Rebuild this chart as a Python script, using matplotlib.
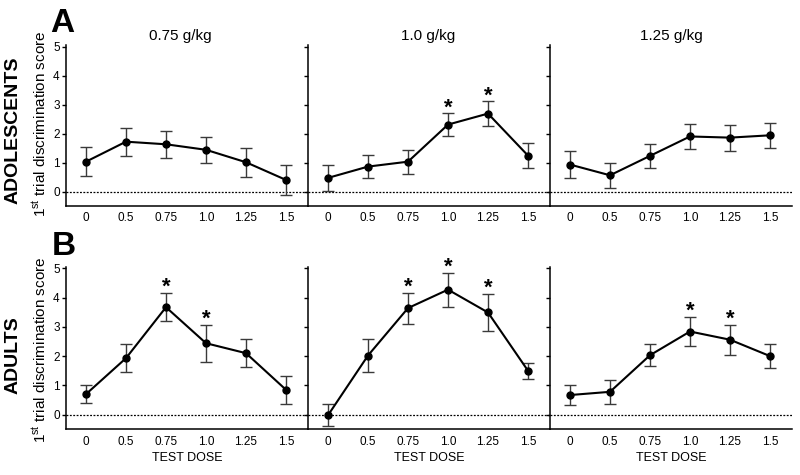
import matplotlib
matplotlib.use('Agg')
import matplotlib.pyplot as plt

plt.rcParams['font.family'] = ['Liberation Sans', 'DejaVu Sans']
plt.rcParams['mathtext.fontset'] = 'custom'
plt.rcParams['mathtext.rm'] = 'Liberation Sans'
plt.rcParams['mathtext.it'] = 'Liberation Sans'

test_doses = ['0', '0.5', '0.75', '1.0', '1.25', '1.5']
doses = ['0.75 g/kg', '1.0 g/kg', '1.25 g/kg']
groups = ['ADOLESCENTS', 'ADULTS']
panel_letters = ['A', 'B']

# adolescents, one list per training dose
adol_mean = [
    [1.03, 1.72, 1.63, 1.44, 1.01, 0.40],
    [0.47, 0.86, 1.03, 2.31, 2.69, 1.24],
    [0.93, 0.56, 1.23, 1.90, 1.86, 1.94],
]
adol_sem = [
    [0.50, 0.48, 0.47, 0.45, 0.50, 0.52],
    [0.44, 0.40, 0.42, 0.39, 0.42, 0.43],
    [0.46, 0.44, 0.41, 0.44, 0.45, 0.43],
]
adol_sig = [[], [3, 4], []]

# adults
adult_mean = [
    [0.70, 1.93, 3.67, 2.44, 2.10, 0.85],
    [-0.02, 2.02, 3.64, 4.27, 3.49, 1.50],
    [0.67, 0.78, 2.03, 2.84, 2.56, 2.00],
]
adult_sem = [
    [0.30, 0.49, 0.48, 0.63, 0.48, 0.48],
    [0.37, 0.56, 0.53, 0.58, 0.63, 0.28],
    [0.33, 0.41, 0.37, 0.49, 0.51, 0.40],
]
adult_sig = [[2, 3], [2, 3, 4], [3, 4]]

W, H = 800, 475
fig = plt.figure(figsize=(8, 4.75), dpi=100)

lefts = [66, 308, 550]
pw = 242
rows = [(45.2, 206.0), (266.8, 429.3)]  # top, bottom in pixels
title_x = [180, 428, 671]

data = [(adol_mean, adol_sem, adol_sig), (adult_mean, adult_sem, adult_sig)]
xs = list(range(len(test_doses)))

for r, (top, bot) in enumerate(rows):
    means, sems, sigs = data[r]
    for c in range(3):
        ax = fig.add_axes([lefts[c] / W, 1 - bot / H, pw / W, (bot - top) / H])
        ax.axhline(0, color='black', lw=0.9, ls=(0, (1.5, 1.2)), zorder=1)
        ax.errorbar(xs, means[c], yerr=sems[c], fmt='none', ecolor='#3a3a3a',
                    elinewidth=1.0, capsize=4, capthick=1.0, zorder=2)
        ax.plot(xs, means[c], color='black', lw=1.5, marker='o', markersize=5, zorder=3)
        for i in sigs[c]:
            ax.annotate('*', xy=(i, means[c][i] + sems[c][i]), xytext=(0, 0),
                        textcoords='offset points', ha='center', va='baseline',
                        fontsize=16, fontweight='bold', annotation_clip=False)
        ax.set_xlim(-0.5, 5.55)
        ax.set_ylim(-0.5, 5.05)
        ax.set_xticks(xs)
        ax.set_xticklabels(test_doses)
        ax.set_yticks([0, 1, 2, 3, 4, 5])
        ax.tick_params(axis='x', length=0, pad=4.5, labelsize=8.5)
        ax.tick_params(axis='y', length=3, width=1, direction='out', labelsize=8.5, pad=1.5)
        if c > 0:
            ax.set_yticklabels([])
        for s in ['top', 'right']:
            ax.spines[s].set_visible(False)
        for s in ['left', 'bottom']:
            ax.spines[s].set_linewidth(1.1)
        if r == 0:
            t = ax.set_title(doses[c], fontsize=11, pad=4)
            t.set_x((title_x[c] - lefts[c]) / pw)
        else:
            ax.set_xlabel('TEST DOSE', fontsize=9, labelpad=3)

fig.text(62 / W, 1 - 23 / H, panel_letters[0], fontsize=24, fontweight='bold', ha='center', va='center')
fig.text(64 / W, 1 - 246 / H, panel_letters[1], fontsize=24, fontweight='bold', ha='center', va='center')
fig.text(13 / W, 1 - 130 / H, groups[0], fontsize=14, fontweight='bold', rotation=90, ha='center', va='center')
fig.text(13 / W, 1 - 355 / H, groups[1], fontsize=14, fontweight='bold', rotation=90, ha='center', va='center')
ylab = '1$^{\\mathrm{st}}$ trial discrimination score'
fig.text(40 / W, 1 - 124 / H, ylab, fontsize=11, rotation=90, ha='center', va='center')
fig.text(40 / W, 1 - 350 / H, ylab, fontsize=11, rotation=90, ha='center', va='center')

fig.savefig('out.png', dpi=100)
